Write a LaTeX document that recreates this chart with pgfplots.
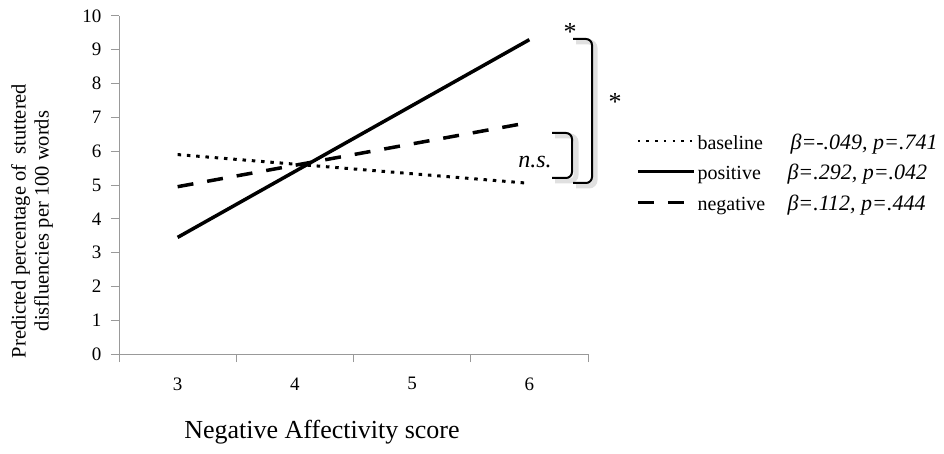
\documentclass[border=0pt]{standalone}
\usepackage{pgfplots}
\pgfplotsset{compat=1.18}
\usepackage{fontspec}
\setmainfont{Liberation Serif}
\newcommand\tickfont{\fontsize{19}{22}\selectfont}
\begin{document}
\begin{tikzpicture}[x=1pt,y=1pt]
\path (0,0) rectangle (944,453);
\begin{axis}[
  at={(119pt,99pt)}, anchor=south west,
  width=469pt, height=338pt, scale only axis,
  xmin=2.5, xmax=6.5, ymin=0, ymax=10,
  axis lines=left, axis line style={-, black!40, line width=1pt},
  xtick={3,4,5,6}, minor xtick={2.5,3.5,4.5,5.5,6.5},
  ytick={0,1,...,10},
  xticklabel={\pgfmathtruncatemacro\tk{round(\tick)}\hbox{\tickfont\tk}},
  yticklabel={\pgfmathtruncatemacro\tk{round(\tick)}\hbox{\tickfont\tk}},
  tick align=outside,
  major tick length=8pt, minor tick length=8pt,
  tick style={black!40, line width=1pt},
  every major x tick/.append style={draw=none},
  xticklabel style={yshift=-12pt},
  yticklabel style={xshift=-6pt},
  clip=false,
  legend style={at={(1.102,0.66)}, anchor=north west, draw=none, fill=none,
    font=\fontsize{20}{23}\selectfont, row sep=0pt, inner sep=0pt,
    nodes={inner sep=2pt, text height=16pt, text depth=10.5pt}},
  legend cell align=left,
  legend image code/.code={\draw[#1] (0pt,5pt) -- (56pt,5pt);},
]
\addplot[black, line width=3pt, dash pattern=on 3.5pt off 5.8pt, legend image post style={line width=2.2pt, dash pattern=on 2.5pt off 6.2pt}] coordinates {(3,5.9) (6,5.05)};
\addlegendentry{\makebox[93pt][l]{baseline}{\fontsize{22}{25}\selectfont\itshape β=-.049, p=.741}}
\addplot[black, line width=3.5pt, legend image post style={line width=3pt}] coordinates {(3,3.45) (6,9.3)};
\addlegendentry{\makebox[90pt][l]{positive}{\fontsize{22}{25}\selectfont\itshape β=.292, p=.042}}
\addplot[black, line width=3.5pt, dash pattern=on 16pt off 14pt, legend image post style={line width=3.5pt}] coordinates {(3,4.95) (6,6.85)};
\addlegendentry{\makebox[90pt][l]{negative}{\fontsize{22}{25}\selectfont\itshape β=.112, p=.444}}
\end{axis}
% brackets (annotations)
\begin{scope}[rounded corners=6pt]
\draw[black!20, line width=5pt, opacity=0.6] (555,317) -- (576,317) -- (576,272) -- (555,272);
\draw[black!20, line width=5pt, opacity=0.6] (576,411) -- (595,411) -- (595,267) -- (576,267);
\draw[black, line width=2pt] (552,320) -- (572,320) -- (572,275) -- (552,275);
\draw[black, line width=2pt] (573,414) -- (592,414) -- (592,270) -- (573,270);
\end{scope}
\node[font=\fontsize{26}{30}\selectfont] at (570,421) {*};
\node[font=\fontsize{26}{30}\selectfont] at (615,351) {*};
\node[font=\fontsize{24}{28}\selectfont\itshape] at (535,291) {n.s.};
\node[rotate=90, align=center, font=\fontsize{20.5}{23}\selectfont] at (32,232) {Predicted percentage of\ \ stuttered\\disfluencies per 100 words};
\node[font=\fontsize{26}{30}\selectfont] at (322,21) {Negative Affectivity score};
\end{tikzpicture}
\end{document}
